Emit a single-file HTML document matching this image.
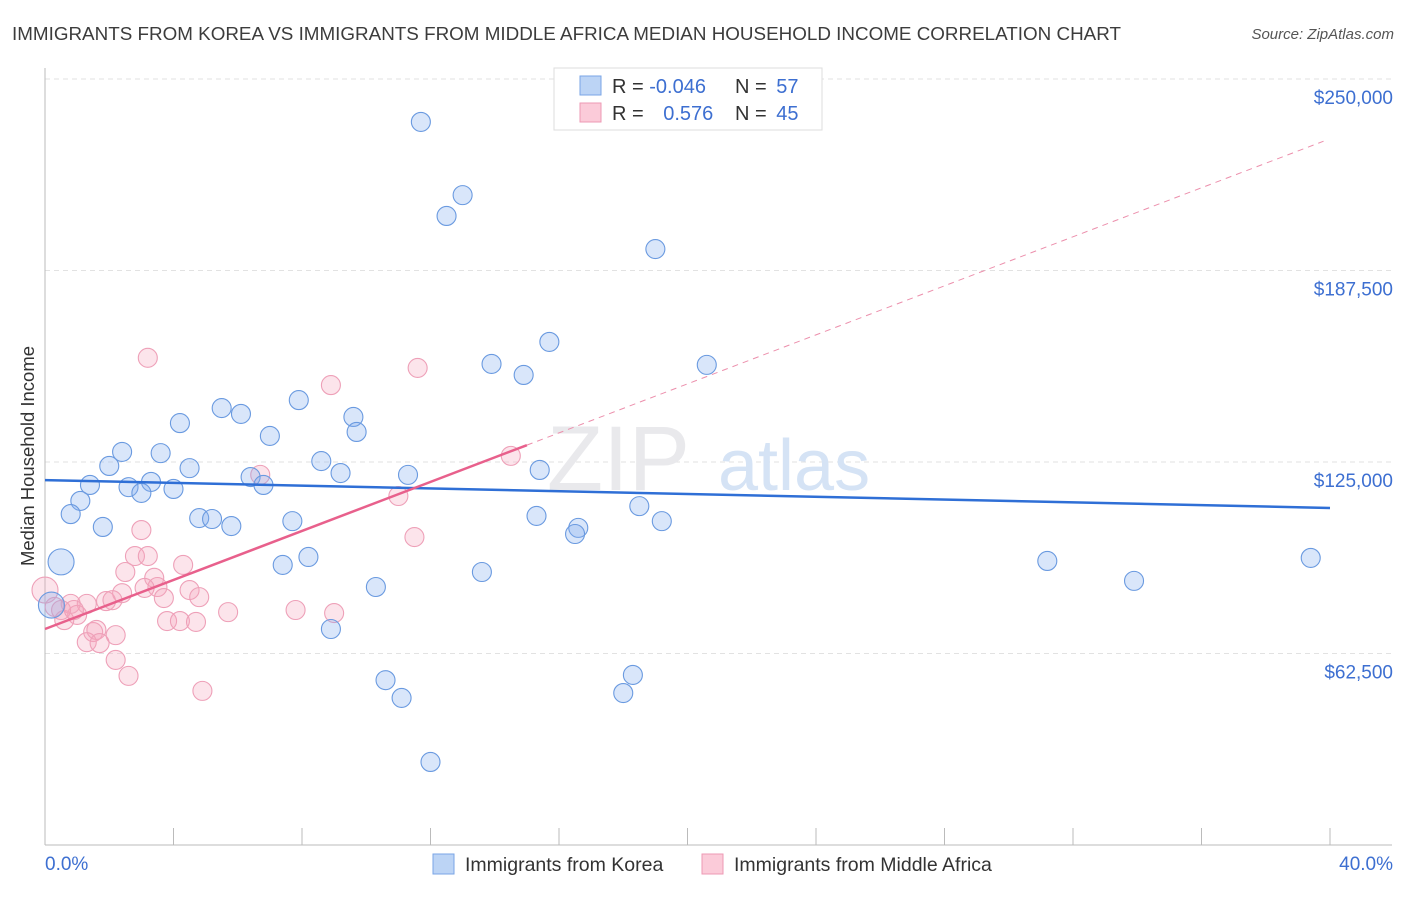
<!DOCTYPE html>
<html><head><meta charset="utf-8"><style>
body{margin:0;background:#fff;font-family:"Liberation Sans",sans-serif;}
svg text{font-family:"Liberation Sans",sans-serif;}
</style></head><body>
<svg id="chart" width="1406" height="892" xmlns="http://www.w3.org/2000/svg">
<text x="12" y="40" font-size="18" fill="#3c3c3c" textLength="1109" lengthAdjust="spacingAndGlyphs">IMMIGRANTS FROM KOREA VS IMMIGRANTS FROM MIDDLE AFRICA MEDIAN HOUSEHOLD INCOME CORRELATION CHART</text>
<text x="1394" y="39" font-size="15" fill="#555" text-anchor="end" font-style="italic">Source: ZipAtlas.com</text>
<g id="grid"></g>
<text x="690" y="490" font-size="92" fill="#e9e9ec" text-anchor="end" font-family="Liberation Serif">ZIP</text>
<text x="718" y="490" font-size="72" fill="#d5e3f5">atlas</text>
<line x1="45" y1="68" x2="45" y2="845" stroke="#bbb"/>
<line x1="45" y1="845" x2="1392" y2="845" stroke="#bbb"/>
<g id="ticks"></g>
<g id="marks"></g>
<text transform="translate(34,456) rotate(-90)" font-size="18.5" fill="#333" text-anchor="middle">Median Household Income</text>
<text x="45" y="870" font-size="19" fill="#3d6fd1">0.0%</text>
<text x="1393" y="870" font-size="19" fill="#3d6fd1" text-anchor="end">40.0%</text>
<g>
<rect x="554" y="68" width="268" height="62" fill="#fff" stroke="#ddd"/>
<rect x="580" y="76" width="21" height="19" fill="#bcd4f5" stroke="#7aa5e6"/>
<rect x="580" y="103" width="21" height="19" fill="#fbcbd9" stroke="#ee9ab4"/>
<text x="612" y="93" font-size="20" fill="#333">R = <tspan fill="#3d6fd1">-0.046</tspan></text>
<text x="735" y="93" font-size="20" fill="#333">N = <tspan fill="#3d6fd1" dx="4">57</tspan></text>
<text x="612" y="120" font-size="20" fill="#333">R = <tspan fill="#3d6fd1" dx="14">0.576</tspan></text>
<text x="735" y="120" font-size="20" fill="#333">N = <tspan fill="#3d6fd1" dx="4">45</tspan></text>
</g>
<g>
<rect x="433" y="854" width="21" height="20" fill="#bcd4f5" stroke="#7aa5e6"/>
<text x="465" y="871" font-size="19.5" fill="#333">Immigrants from Korea</text>
<rect x="702" y="854" width="21" height="20" fill="#fbcbd9" stroke="#ee9ab4"/>
<text x="734" y="871" font-size="19.5" fill="#333">Immigrants from Middle Africa</text>
</g>
</svg>
<script>
const yTicks=[62500,125000,187500,250000];
const yTickLabels=["$62,500","$125,000","$187,500","$250,000"];
const xTickVals=[0,4,8,12,16,20,24,28,32,36,40];
const koreaX=[11.7,13.0,12.5,19.0,15.7,13.9,14.9,20.6,7.9,5.5,6.1,9.6,4.2,9.7,7.0,2.4,3.6,2.0,8.6,4.5,9.2,11.3,15.4,1.4,3.3,2.6,3.0,4.0,6.4,6.8,1.1,0.8,18.5,15.3,4.8,5.2,7.7,19.2,1.8,5.8,16.6,16.5,8.2,7.4,0.5,13.6,31.2,39.4,33.9,10.3,8.9,18.3,10.6,18.0,11.1,12.0,0.2];
const koreaY=[236.0,212.1,205.3,194.5,164.2,157.0,153.4,156.7,145.2,142.6,140.7,139.7,137.7,134.8,133.5,128.3,127.9,123.7,125.3,123.0,121.4,120.8,122.4,117.5,118.5,116.8,114.9,116.2,120.1,117.5,112.3,108.0,110.6,107.4,106.7,106.4,105.7,105.7,103.8,104.1,103.5,101.5,94.0,91.4,92.4,89.1,92.7,93.7,86.2,84.2,70.5,55.5,53.8,49.6,48.0,27.1,78.3];
const koreaBig=[44,56];
const africaX=[3.2,11.6,8.9,14.5,6.7,11.0,3.0,11.5,2.8,3.2,4.3,2.5,3.4,3.5,4.5,3.1,2.4,4.8,3.7,1.9,2.1,1.3,0.8,5.7,7.8,9.0,1.0,3.8,4.2,4.7,0.6,1.5,1.6,2.2,1.3,1.7,2.2,2.6,4.9,0.0,0.3,0.5,0.9];
const africaY=[159.0,155.7,150.1,127.0,120.8,113.9,102.8,100.5,94.3,94.3,91.4,89.1,87.2,84.2,83.2,83.9,82.2,80.9,80.6,79.6,79.9,78.7,78.7,76.0,76.7,75.7,75.1,73.1,73.1,72.8,73.4,69.5,70.2,68.5,66.2,65.9,60.4,55.2,50.3,83.2,77.7,76.7,76.7];
const africaBig=[39];
const koreaTrend=[119.1,110.0];
const africaTrend=[70.5,230.5];
const africaSolidEnd=15.0;

const NS="http://www.w3.org/2000/svg";
function xs(p){return 45+p/40*1285;}
function ys(v){return 462-(v-125)/62.5*191.5;}
function mk(tag,attrs,parent){const e=document.createElementNS(NS,tag);for(const k in attrs)e.setAttribute(k,attrs[k]);parent.appendChild(e);return e;}
const grid=document.getElementById('grid'),ticks=document.getElementById('ticks'),marks=document.getElementById('marks');
yTicks.forEach((t,i)=>{
 const y=ys(t/1000);
 const l=mk('line',{x1:45,x2:1392,y1:y,y2:y,stroke:'#e2e2e2','stroke-dasharray':'5,4'},grid);
 
 
 const tx=mk('text',{x:1393,y:y+25,'font-size':19,fill:'#3d6fd1','text-anchor':'end'},grid);
 tx.textContent=yTickLabels[i];
 
 
});
xTickVals.forEach(v=>{
 const x=xs(v);
 const l=mk('line',{x1:x,x2:x,y1:828,y2:845,stroke:'#bbb'},ticks);
 
 
});
function dots(X,Y,big,fill,stroke,name){
 X.forEach((x,i)=>{
  const c=mk('circle',{cx:xs(x),cy:ys(Y[i]),r:big.includes(i)?13:9.5,fill:fill,stroke:stroke,'stroke-width':1.1},marks);
  
  
 });
}
dots(africaX,africaY,africaBig,'rgba(245,165,190,0.3)','#eea0b8','africa-point');
dots(koreaX,koreaY,koreaBig,'rgba(130,172,238,0.3)','#6a9ae0','korea-point');
const kt=mk('line',{x1:xs(0),y1:ys(koreaTrend[0]),x2:xs(40),y2:ys(koreaTrend[1]),stroke:'#2f6fd6','stroke-width':2.5},marks);


const slope=(africaTrend[1]-africaTrend[0])/40;
const ad=mk('line',{x1:xs(africaSolidEnd),y1:ys(africaTrend[0]+slope*africaSolidEnd),x2:xs(39.8),y2:ys(africaTrend[0]+slope*39.8),stroke:'#ec8fac','stroke-width':1,'stroke-dasharray':'6,5'},marks);


const at=mk('line',{x1:xs(0),y1:ys(africaTrend[0]),x2:xs(africaSolidEnd),y2:ys(africaTrend[0]+slope*africaSolidEnd),stroke:'#e8608c','stroke-width':2.5},marks);


</script>
</body></html>
